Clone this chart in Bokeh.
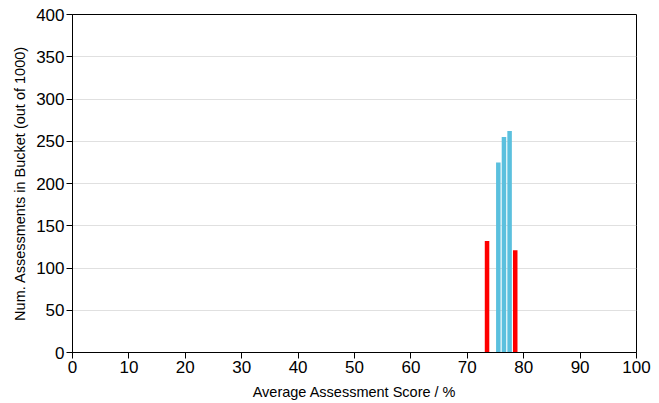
from bokeh.plotting import figure
from bokeh.embed import file_html
from bokeh.resources import INLINE
from bokeh.models import ColumnDataSource, FixedTicker

# Data (bucket centres in %, counts out of 1000)
outer_scores = [73.5, 78.5]
outer_counts = [132, 121]
inner_scores = [75.5, 76.5, 77.5]
inner_counts = [225, 255, 262]
bar_width = 0.8

x_ticks = [0, 10, 20, 30, 40, 50, 60, 70, 80, 90, 100]
y_ticks = [0, 50, 100, 150, 200, 250, 300, 350, 400]

FONT = "Liberation Sans"

p = figure(width=659, height=403, output_backend="svg", toolbar_location=None,
           x_range=(0, 100), y_range=(0, 400),
           min_border_left=72, min_border_right=23, min_border_top=14, min_border_bottom=51)

src_outer = ColumnDataSource(dict(x=outer_scores, top=outer_counts))
src_inner = ColumnDataSource(dict(x=inner_scores, top=inner_counts))
p.vbar(x="x", top="top", bottom=0, width=bar_width, source=src_outer,
       fill_color="#ff0000", line_color=None)
p.vbar(x="x", top="top", bottom=0, width=bar_width, source=src_inner,
       fill_color="#5bc0de", line_color=None)

p.xgrid.grid_line_color = None
p.ygrid.grid_line_color = "#e0e0e0"
p.ygrid.ticker = FixedTicker(ticks=y_ticks)

p.outline_line_color = "black"
p.outline_line_width = 1
p.outline_line_alpha = 1

for ax in (p.xaxis[0], p.yaxis[0]):
    ax.axis_line_color = "black"
    ax.major_tick_line_color = "black"
    ax.minor_tick_line_color = None
    ax.major_tick_out = 6
    ax.major_tick_in = 0
    ax.major_label_text_font = FONT
    ax.major_label_text_font_size = "17px"
    ax.major_label_text_color = "black"
    ax.axis_label_text_font = FONT
    ax.axis_label_text_font_size = "14.5px"
    ax.axis_label_text_font_style = "normal"
    ax.axis_label_text_color = "black"
    ax.major_label_standoff = 2

p.xaxis[0].ticker = FixedTicker(ticks=x_ticks)
p.yaxis[0].ticker = FixedTicker(ticks=y_ticks)
p.xaxis[0].axis_label = "Average Assessment Score / %"
p.yaxis[0].axis_label = "Num. Assessments in Bucket (out of 1000)"
p.xaxis[0].axis_label_standoff = 8
p.yaxis[0].axis_label_standoff = 5

p.background_fill_color = "white"
p.border_fill_color = "white"

open("out.html", "w").write(file_html(p, INLINE))
